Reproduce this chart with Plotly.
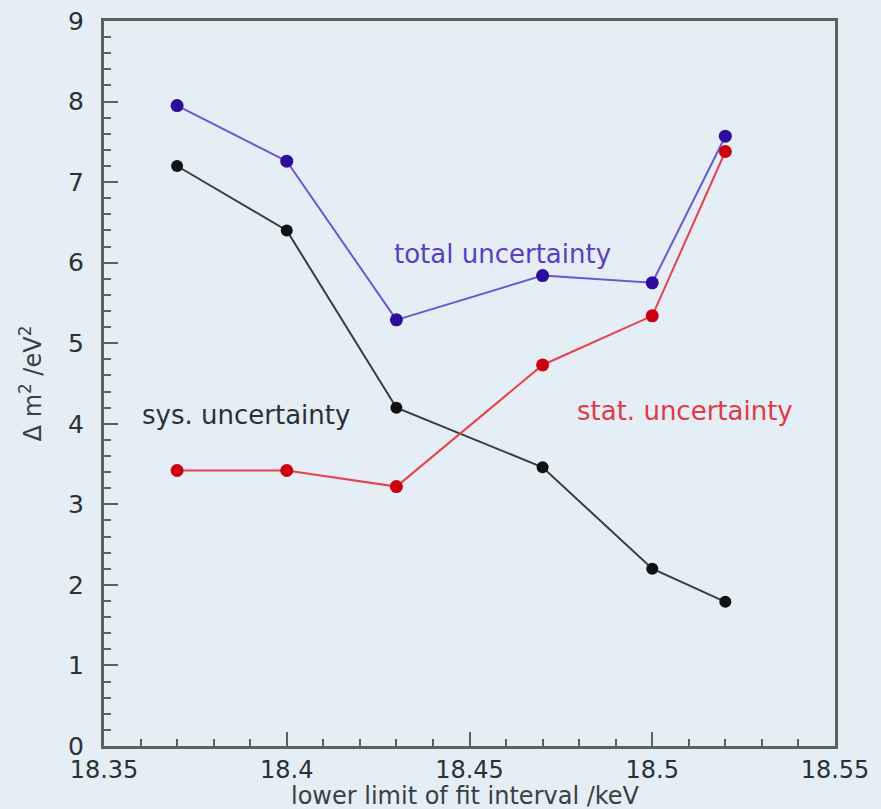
import plotly.graph_objects as go

x_vals = [18.37, 18.40, 18.43, 18.47, 18.50, 18.52]
total_unc = [7.95, 7.26, 5.29, 5.84, 5.75, 7.57]
sys_unc = [7.20, 6.40, 4.20, 3.46, 2.20, 1.79]
stat_unc = [3.42, 3.42, 3.22, 4.73, 5.34, 7.38]

x_ticks = [18.35, 18.4, 18.45, 18.5, 18.55]
x_tick_text = ["18.35", "18.4", "18.45", "18.5", "18.55"]
y_ticks = list(range(0, 10))

bg = "#e4eef4"
axis_col = "#5a625e"
font_family = "DejaVu Sans"

fig = go.Figure()
fig.add_trace(go.Scatter(x=x_vals, y=total_unc, mode="lines+markers",
                         line=dict(color="#6e55d6", width=2),
                         marker=dict(color="#2c0d9c", size=13),
                         name="total uncertainty"))
fig.add_trace(go.Scatter(x=x_vals, y=sys_unc, mode="lines+markers",
                         line=dict(color="#3c3c3c", width=2),
                         marker=dict(color="#111111", size=12),
                         name="sys. uncertainty"))
fig.add_trace(go.Scatter(x=x_vals, y=stat_unc, mode="lines+markers",
                         line=dict(color="#e8404c", width=2),
                         marker=dict(color="#cc0010", size=13),
                         name="stat. uncertainty"))

fig.add_annotation(x=18.459, y=6.11, xref="x", yref="y", text="total uncertainty",
                   showarrow=False, font=dict(family=font_family, size=26, color="#5a3fc0"))
fig.add_annotation(x=18.3888, y=4.11, xref="x", yref="y", text="sys. uncertainty",
                   showarrow=False, font=dict(family=font_family, size=26, color="#2a3238"))
fig.add_annotation(x=18.509, y=4.16, xref="x", yref="y", text="stat. uncertainty",
                   showarrow=False, font=dict(family=font_family, size=26, color="#e03a48"))
fig.add_annotation(x=-0.1, y=0.50, xref="paper", yref="paper", text="Δ m<sup>2</sup> /eV<sup>2</sup>",
                   textangle=-90, showarrow=False, xanchor="center", yanchor="middle",
                   font=dict(family=font_family, size=24, color="#3a4044"))
fig.add_annotation(x=0.495, y=-0.0695, xref="paper", yref="paper", text="lower limit of fit interval /keV",
                   showarrow=False, xanchor="center", yanchor="middle",
                   font=dict(family=font_family, size=24, color="#3a4044"))

fig.update_layout(
    width=881, height=809,
    margin=dict(l=104, r=46, t=21, b=63),
    paper_bgcolor=bg, plot_bgcolor=bg,
    showlegend=False,
    font=dict(family=font_family, color="#2a3034"),
)
fig.update_xaxes(range=[18.35, 18.55], tickvals=x_ticks, ticktext=x_tick_text,
                 ticks="inside", ticklen=14, tickwidth=2, tickcolor=axis_col,
                 minor=dict(dtick=0.01, ticks="inside", ticklen=7, tickwidth=2, tickcolor=axis_col),
                 showline=True, linecolor=axis_col, linewidth=3, mirror=True,
                 showgrid=False, zeroline=False, automargin=False,
                 tickfont=dict(size=24, family=font_family, color="#2a3034"))
fig.update_yaxes(range=[0, 9], tickvals=y_ticks,
                 ticks="inside", ticklen=14, tickwidth=2, tickcolor=axis_col,
                 minor=dict(dtick=0.2, ticks="inside", ticklen=7, tickwidth=2, tickcolor=axis_col),
                 showline=True, linecolor=axis_col, linewidth=3, mirror=True,
                 showgrid=False, zeroline=False, automargin=False, ticklabelstandoff=12,
                 tickfont=dict(size=25, family=font_family, color="#2a3034"))

fig.write_html("out.html", config={"displayModeBar": False},
               post_script="document.body.style.margin='0';document.body.style.overflow='hidden';"
                           "document.body.style.background='" + bg + "';")
